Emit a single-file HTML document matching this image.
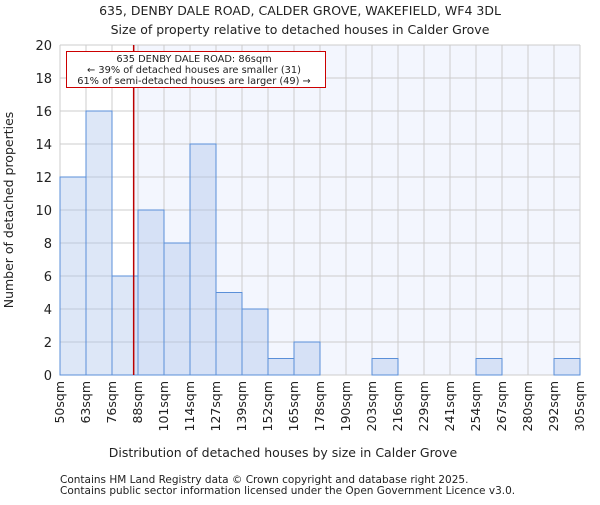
<!DOCTYPE html>
<html><head><meta charset="utf-8"><style>
body{margin:0;background:#fff;}
svg text{font-family:"DejaVu Sans","Liberation Sans",sans-serif;fill:#222;}
</style></head><body>
<svg id="c" width="600" height="500" xmlns="http://www.w3.org/2000/svg">
<text x="300" y="15" text-anchor="middle" font-size="12.5">635, DENBY DALE ROAD, CALDER GROVE, WAKEFIELD, WF4 3DL</text>
<text x="300" y="34" text-anchor="middle" font-size="12.5">Size of property relative to detached houses in Calder Grove</text>
<g id="plot"></g>
<text x="283" y="457" text-anchor="middle" font-size="12.5">Distribution of detached houses by size in Calder Grove</text>
<text transform="translate(13,210) rotate(-90)" text-anchor="middle" font-size="12.5">Number of detached properties</text>
<text x="60" y="483" font-size="10.5">Contains HM Land Registry data © Crown copyright and database right 2025.</text>
<text x="60" y="494" font-size="10.5">Contains public sector information licensed under the Open Government Licence v3.0.</text>
</svg>
<script>
const binLabels=["50sqm","63sqm","76sqm","88sqm","101sqm","114sqm","127sqm","139sqm","152sqm","165sqm","178sqm","190sqm","203sqm","216sqm","229sqm","241sqm","254sqm","267sqm","280sqm","292sqm","305sqm"];
const counts=[12,16,6,10,8,14,5,4,1,2,0,0,1,0,0,0,1,0,0,1];
const yTicks=[0,2,4,6,8,10,12,14,16,18,20];
const propertyBinIndex=2;
const propertyFraction=10/12;
const NS="http://www.w3.org/2000/svg";
const L=60,R=580,T=45,B=375,yMax=20;
const n=counts.length;
const xs=i=>L+(R-L)*i/n;
const ys=v=>B-(B-T)*v/yMax;
const g=document.getElementById('plot');
function mk(t,a){const e=document.createElementNS(NS,t);for(const k in a)e.setAttribute(k,a[k]);g.appendChild(e);return e;}
const px=xs(propertyBinIndex+propertyFraction);
let e=mk('rect',{x:px,y:T,width:R-px,height:B-T,fill:'#f3f6fe'});


for(let i=0;i<=n;i++){e=mk('line',{x1:xs(i),x2:xs(i),y1:T,y2:B,stroke:'#cccccc','stroke-width':1});

}
yTicks.forEach(v=>{e=mk('line',{x1:L,x2:R,y1:ys(v),y2:ys(v),stroke:'#cccccc','stroke-width':1});


const t=mk('text',{x:L-8,y:ys(v)+5,'text-anchor':'end','font-size':13});t.textContent=v;

});
counts.forEach((c,i)=>{if(c<=0)return;
e=mk('rect',{x:xs(i),y:ys(c),width:xs(i+1)-xs(i),height:B-ys(c),fill:'rgba(170,195,235,0.4)',stroke:'#5a8fd8','stroke-width':1});

});
binLabels.forEach((s,i)=>{const x=xs(i)+4;const t=mk('text',{transform:`translate(${x},381) rotate(-90)`,'text-anchor':'end','font-size':12.5});t.textContent=s;

});
e=mk('line',{x1:px,x2:px,y1:T,y2:B,stroke:'#bb0000','stroke-width':1.5});


e=mk('rect',{x:66.5,y:51.5,width:259,height:36,fill:'#fff',stroke:'#cc0000','stroke-width':1});


["635 DENBY DALE ROAD: 86sqm","← 39% of detached houses are smaller (31)","61% of semi-detached houses are larger (49) →"].forEach((s,k)=>{const t=mk('text',{x:194,y:62+k*11,'text-anchor':'middle','font-size':9.8});t.textContent=s;

});
</script>
</body></html>
